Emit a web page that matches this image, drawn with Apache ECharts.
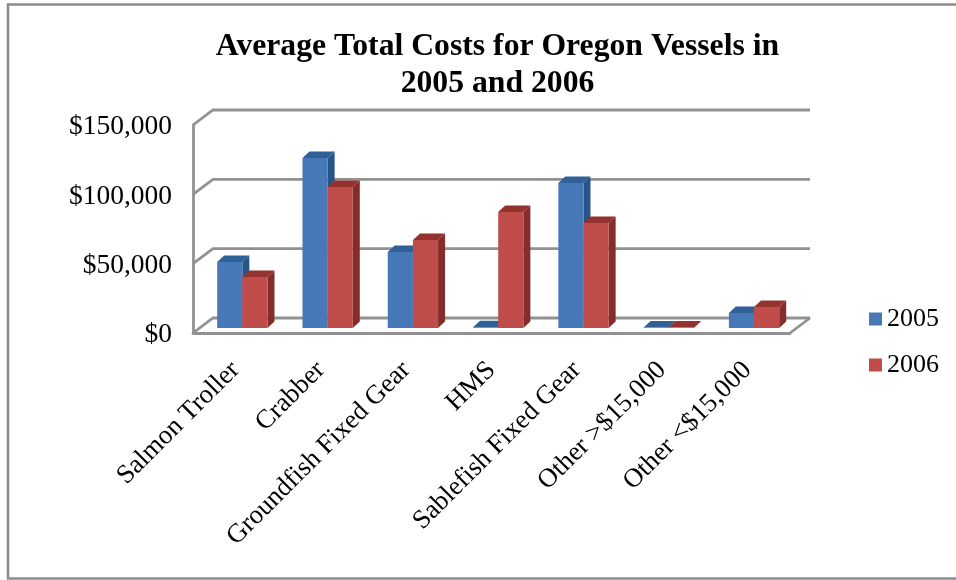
<!DOCTYPE html>
<html><head><meta charset="utf-8">
<style>html,body{margin:0;padding:0;background:#fff}#c{width:956px;height:580px}</style>
<script src="https://cdn.jsdelivr.net/npm/echarts@6/dist/echarts.min.js"></script>
</head><body><div id="c"></div>
<script>
const categories = ['Salmon Troller','Crabber','Groundfish Fixed Gear','HMS','Sablefish Fixed Gear','Other >$15,000','Other <$15,000'];
const values2005 = [47600,122600,54800,500,104600,300,10800];
const values2006 = [36800,101700,63500,83700,75800,300,15200];
const yTicks = [0,50000,100000,150000];

const FONT = '"Liberation Serif","Times New Roman",serif';
const WALL = {dx:20, dy:15}, PLANE = {dx:6.7, dy:5}, DEPTH = {dx:7, dy:6.5};
const GREY = '#919191';

function wallItem(params, api){
  const cs = params.coordSys, v = api.value(1);
  const x0 = cs.x, x1 = cs.x + cs.width, y = api.coord([0, v])[1];
  const children = [{type:'polyline', shape:{points:[[x0,y],[x0+WALL.dx,y-WALL.dy],[x1+WALL.dx,y-WALL.dy]]},
    style:{stroke:GREY, lineWidth:2.8, fill:null}}];
  if (v === 0) children.push({type:'polyline', shape:{points:[[x1,y],[x1+WALL.dx,y-WALL.dy]]},
    style:{stroke:GREY, lineWidth:2.8, fill:null}});
  return {type:'group', children};
}
function barItem(side, face, top, dark){
  return function(params, api){
    const i = api.value(0), v = api.value(1);
    const p = api.coord([i, v]), b = api.coord([i, 0]);
    const w = api.size([1,0])[0] * 0.295;
    const x0 = p[0] + PLANE.dx + (side < 0 ? -w : 0), x1 = x0 + w;
    const yt = p[1] - PLANE.dy, yb = b[1] - PLANE.dy;
    const dx = DEPTH.dx, dy = DEPTH.dy;
    return {type:'group', children:[
      {type:'polygon', shape:{points:[[x1,yt],[x1+dx,yt-dy],[x1+dx,yb-dy],[x1,yb]]}, style:{fill:dark}},
      {type:'polygon', shape:{points:[[x0,yt],[x0+dx,yt-dy],[x1+dx,yt-dy],[x1,yt]]}, style:{fill:top}},
      {type:'rect', shape:{x:x0,y:yt,width:w,height:Math.max(yb-yt,0)}, style:{fill:face}}
    ]};
  };
}
const chart = echarts.init(document.getElementById('c'), null, {renderer:'canvas'});
chart.setOption({
  animation:false,
  backgroundColor:'#fff',
  title:{text:'Average Total Costs for Oregon Vessels in\n2005 and 2006', left:492.5, top:23, textAlign:'center',
    textStyle:{fontFamily:FONT, fontSize:31.7, fontWeight:'bold', color:'#000', lineHeight:37}},
  legend:{orient:'vertical', left:864, top:301, data:['2005','2006'], itemWidth:13, itemHeight:13, itemGap:20,
    icon:'rect', textStyle:{fontFamily:FONT, fontSize:26, color:'#000'}},
  grid:{left:193, right:166, top:125, bottom:247, containLabel:false},
  xAxis:{type:'category', data:categories, axisTick:{show:false},
    axisLine:{lineStyle:{color:GREY, width:2.8}},
    axisLabel:{interval:0, rotate:45, margin:33, color:'#000', fontFamily:FONT, fontSize:26.7}},
  yAxis:{type:'value', min:0, max:150000, interval:50000, splitLine:{show:false}, axisTick:{show:false},
    axisLine:{show:true, lineStyle:{color:GREY, width:2.8}},
    axisLabel:{margin:21, color:'#000', fontFamily:FONT, fontSize:27.5, verticalAlign:'top', padding:[-12,0,0,0],
      formatter:v=>'$'+v.toLocaleString('en-US')}},
  graphic:[{type:'rect', silent:true, z:-1, shape:{x:8,y:4.5,width:960,height:574},
    style:{fill:null, stroke:'#8c8c8c', lineWidth:2.5}}],
  series:[
    {type:'custom', name:'wall', renderItem:wallItem, clip:false, silent:true, z:1,
      data:yTicks.map(v=>[0,v]), encode:{x:0,y:1}},
    {type:'custom', name:'2005', renderItem:barItem(-1,'#4779b9','#2f6098','#285487'), clip:false, z:2,
      itemStyle:{color:'#4779b9'}, data:values2005.map((v,i)=>[i,v]), encode:{x:0,y:1}},
    {type:'custom', name:'2006', renderItem:barItem(1,'#c04d49','#93322f','#842d2b'), clip:false, z:2,
      itemStyle:{color:'#c04d49'}, data:values2006.map((v,i)=>[i,v]), encode:{x:0,y:1}}
  ]
});
</script></body></html>
